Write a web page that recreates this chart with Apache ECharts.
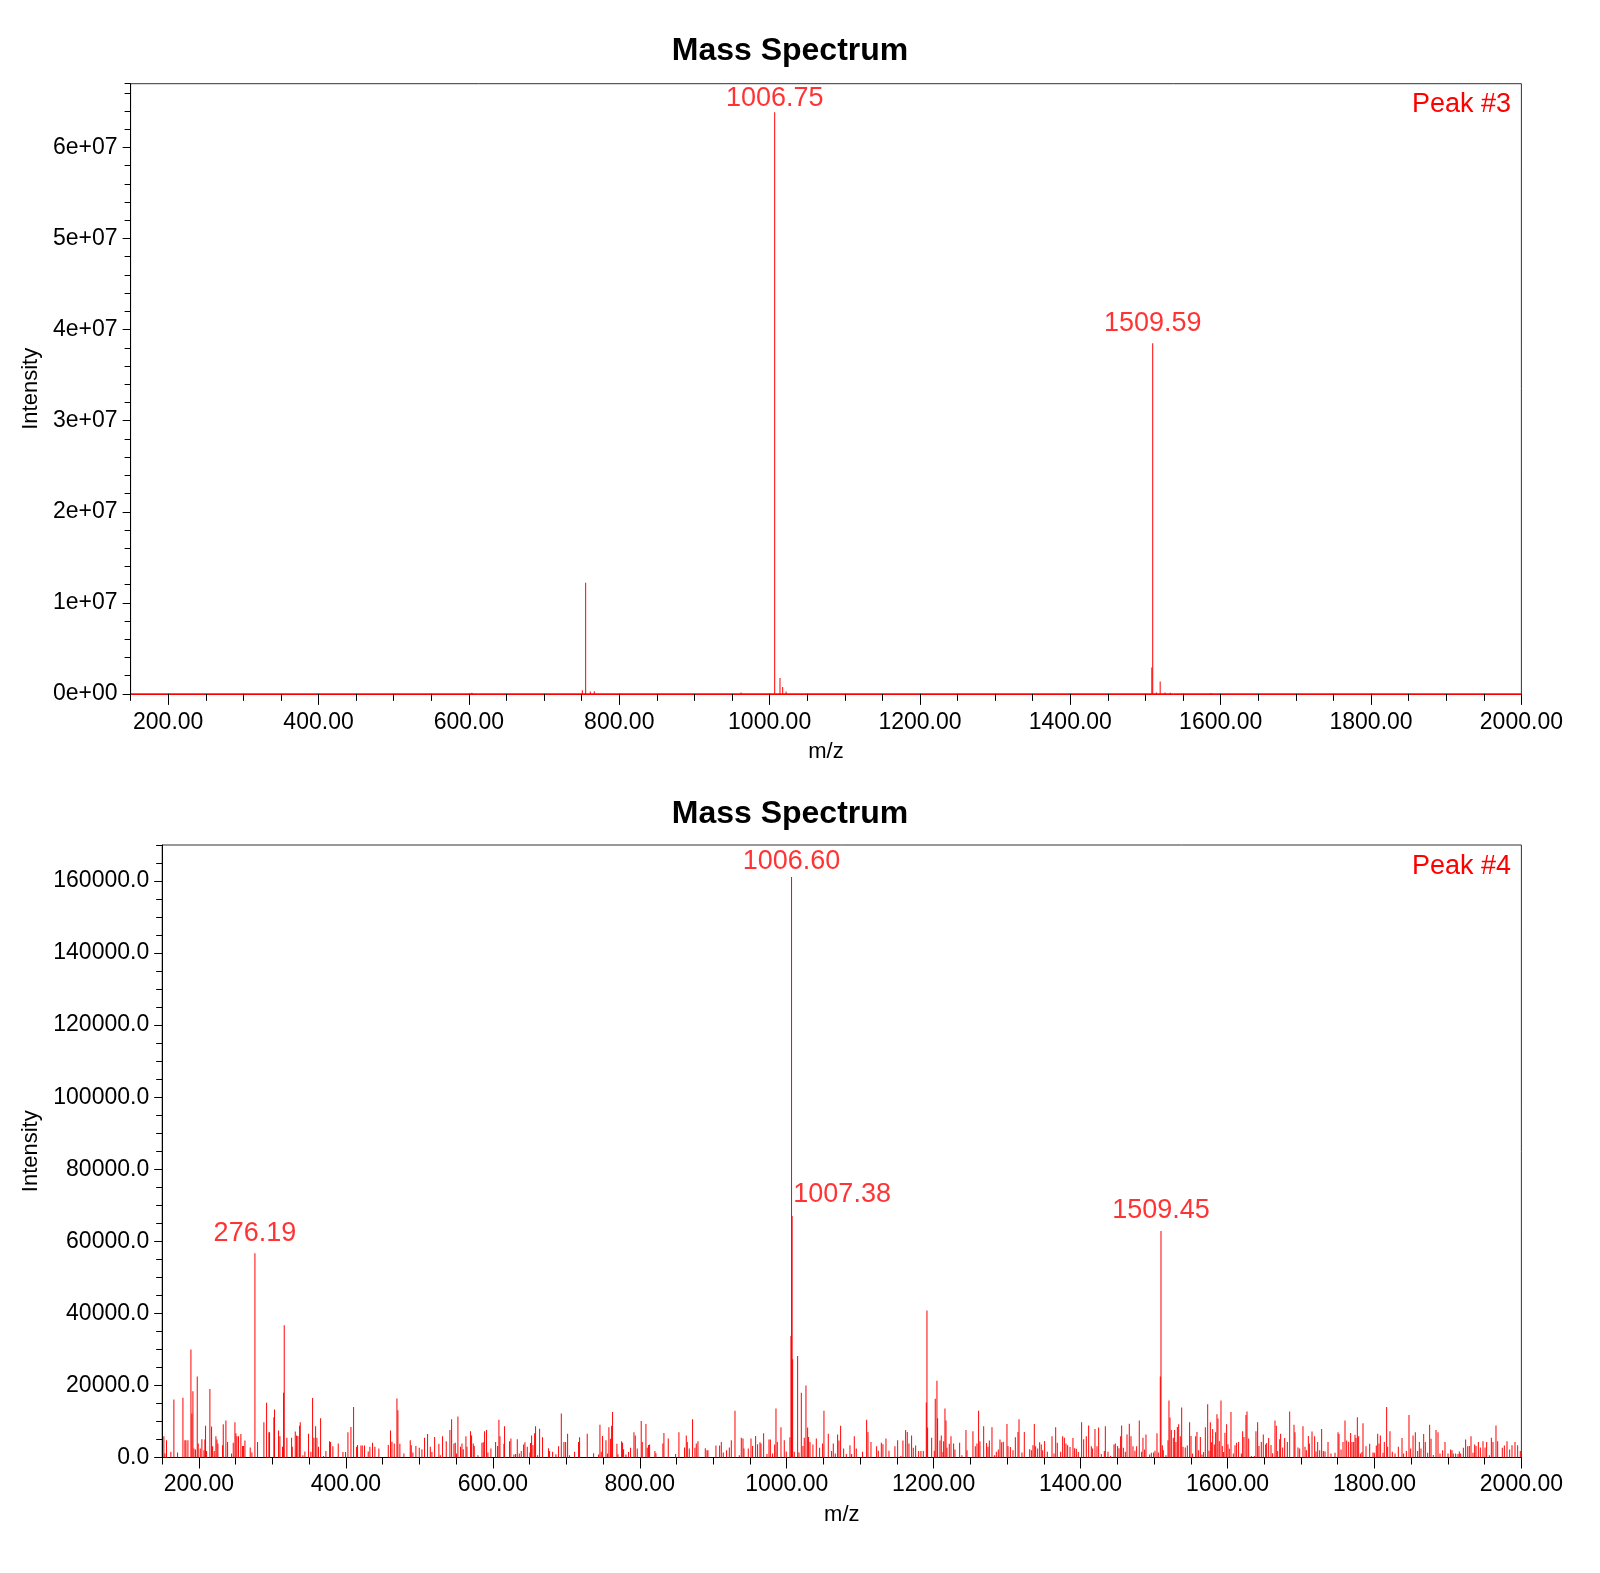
<!DOCTYPE html>
<html>
<head>
<meta charset="utf-8">
<title>Mass Spectrum</title>
<script src="https://cdn.jsdelivr.net/npm/echarts@6/dist/echarts.min.js"></script>
<style>
  html, body { margin: 0; padding: 0; background: #fff; }
  #chart { width: 1600px; height: 1573px; }
</style>
</head>
<body>
<div id="chart"></div>
<script>
// Peak #3 spectrum: [m/z, intensity]
const spec3 = [
  [604.0, 120000], [750.9, 400000], [755.3, 12200000], [761.5, 250000], [766.8, 300000],
  [962.0, 150000], [1006.75, 63860000], [1013.8, 1750000], [1017.4, 750000], [1021.9, 250000],
  [1508.4, 2900000], [1509.59, 38500000], [1514.4, 150000], [1519.5, 1350000],
  [1526.0, 150000], [1533.0, 120000], [1587.0, 100000]
];

// Peak #4 spectrum, split by m/z range
const spec4A = [
  [152.3,5900],[153.7,1100],[155.9,4800],[161.8,1600],[165.9,16100],[170.9,1400],[178.2,16600],[180.9,4800],
  [182.3,4800],[185.0,4800],[189.1,30000],[190.4,12200],[191.8,18400],[193.2,2500],[195.4,2200],[197.7,22500],
  [199.0,3900],[201.8,2500],[204.0,5100],[206.8,2000],[208.1,5000],[209.0,8800],[210.4,1800],[214.9,19000],
  [217.2,8600],[218.6,3100],[220.8,1800],[223.1,5900],[224.5,5000],[225.8,3900],[232.2,3400],[233.1,9200],
  [236.7,10300],[239.0,4300],[244.4,1100],[246.7,4100],[249.0,9800],[250.3,6700],[251.7,5900],[253.9,5900],
  [257.1,6500],[259.4,3200],[260.8,3200],[262.6,4700],[269.8,2800],[272.1,1400],[276.19,56700],[279.8,4300],
  [288.4,9800],[292.1,15200],[295.2,7000],[296.1,7000],[302.0,11200],[302.9,13300],[308.4,7500],[310.2,5900],
  [313.8,3000],[315.2,18000],[316.1,36700],[319.7,5500],[326.1,5500],[327.0,3000],[331.1,7200],[332.9,6100],
  [334.7,6000],[337.0,8800],[337.9,9800],[341.5,650],[344.2,1700],[349.2,6600],[352.4,1600],[354.7,16500],
  [356.5,5500],[358.8,8700],[360.6,5500],[362.8,3000],[365.6,10900],[369.6,400],[372.8,1800],[377.8,4500],
  [379.2,4300],[382.3,3100],[389.6,3900],[396.0,1500],[399.6,1500],[402.8,7000],[406.9,8500],[410.5,14000],
  [414.6,3000],[415.9,3500],[420.5,3300],[422.3,3300],[425.4,3300],[430.4,1700],[432.7,3000],[436.3,4100],
  [439.5,3000],[444.9,2500],[457.7,3500],[460.8,7500],[462.7,4400],[465.8,3900],[469.5,16400],[470.8,13100],
  [473.5,3800],[479.0,1100],[487.6,4800],[489.0,3400],[491.2,1400],[495.3,3200],[499.9,2700],[503.5,2300],
  [507.1,5500],[511.2,6500]
];
const spec4B = [
  [514.9,3000],[517.1,1500],[520.8,5700],[526.6,3800],[528.5,650],[531.6,5900],[536.6,4500],[541.6,7600],
  [543.9,10600],[547.1,3900],[548.9,4100],[550.7,1100],[552.5,11400],[556.1,3000],[558.0,3900],[559.8,2300],
  [563.4,5900],[564.8,3000],[569.7,7300],[571.1,6100],[573.4,3900],[574.7,3200],[579.7,650],[585.2,4100],
  [587.0,4200],[588.8,7300],[591.5,7600],[593.3,1400],[597.4,2500],[603.8,4300],[606.5,3200],[608.3,10500],
  [609.7,5900],[615.1,3800],[616.0,8700],[622.8,4500],[624.6,5300],[628.7,800],[631.0,1000],[633.3,5100],
  [636.0,1100],[638.7,1800],[641.9,3600],[643.7,4200],[646.9,3000],[650.5,1400],[651.4,4000],[652.8,6100],
  [654.6,3500],[656.9,6700],[658.2,8700],[661.0,650],[663.7,8000],[667.7,5600],[675.9,2600],[677.3,1800],
  [681.4,1600],[685.9,900],[689.5,3100],[693.2,12200],[696.8,4300],[699.1,4300],[701.8,6600],[704.5,650],
  [711.3,1600],[716.7,4300],[718.1,5600],[728.5,6600],[737.2,1200],[744.0,800],[745.8,9100],[747.6,1600],
  [749.4,6000],[754.0,4800],[756.2,1100],[758.0,8400],[760.3,5200],[761.7,8800],[763.0,12600],[768.9,3800],
  [770.3,900],[775.3,4500],[776.6,4100],[778.0,2300],[781.2,800],[784.8,1500],[787.5,2700],[792.1,7000],
  [793.9,6100],[796.6,2500],[802.0,10100],[803.4,4300],[808.4,9300],[810.2,2700],[812.0,3500],[813.4,3600],
  [820.6,1800],[822.0,1200],[831.5,3900],[832.9,6800],[838.8,5300],[848.8,1000],[853.3,7000],[861.0,2800],
  [863.3,6100],[864.7,4300],[867.4,2500],[871.9,10600],[875.1,2700],[876.9,3900],[879.2,4500]
];
const spec4C = [
  [889.2,2600],[891.5,2000],[892.8,2000],[903.7,3300],[908.7,3300],[911.0,4300],[913.7,1400],[918.2,2000],
  [921.9,2800],[924.6,4800],[929.6,13000],[935.5,650],[938.2,5500],[940.5,5300],[941.8,2500],[947.7,2500],
  [951.4,5300],[953.6,3200],[957.7,6000],[960.4,3700],[963.6,4200],[965.0,3900],[968.6,6700],[973.1,1000],
  [975.9,5000],[977.7,5000],[980.8,1100],[983.6,3600],[985.4,13600],[987.2,4300],[992.2,8400],[996.7,4800],
  [999.4,1700],[1004.4,5600],[1005.8,33700],[1006.60,161100],[1007.38,67000],[1008.1,27300],[1010.3,1600],
  [1014.9,28200],[1016.7,1400],[1019.9,18000],[1022.1,3200],[1023.9,5500],[1026.2,20000],[1028.5,8300],
  [1029.8,5700],[1031.7,4300],[1035.7,3600],[1040.3,5300],[1044.8,2700],[1048.9,3900],[1050.7,13000],
  [1056.6,6600],[1061.1,1800],[1063.4,3900],[1066.1,1100],[1069.3,6400],[1071.1,4700],[1073.4,8800],
  [1077.5,2500],[1081.1,1000],[1086.1,3400],[1088.4,1000],[1092.0,5900],[1094.7,2500],[1103.3,1600],
  [1108.8,10500],[1110.6,7100],[1114.7,4300],[1122.4,3100],[1124.7,1900],[1128.8,4100],[1131.0,3700],
  [1135.1,5300],[1139.2,1900],[1147.3,3100],[1151.0,4800],[1155.5,400],[1158.2,4700],[1161.9,7600],
  [1164.1,7100],[1166.4,3900],[1170.0,6100],[1172.3,2700],[1175.5,3300],[1179.6,1800],[1182.7,1800],
  [1185.9,1800],[1190.0,15300],[1190.9,40800],[1191.8,8300],[1197.3,5500],[1200.9,1900],[1202.2,16300],
  [1204.5,21300],[1205.4,10900],[1208.6,4700],[1210.4,6100],[1212.7,1500],[1213.6,4500],[1215.4,13600],
  [1216.8,10300],[1218.1,2700],[1221.3,3800],[1223.6,5900],[1227.2,3900],[1229.0,2200],[1235.4,4100],
  [1238.5,650],[1244.0,7600],[1245.4,2000],[1253.5,7300],[1256.7,3100],[1259.0,3900],[1261.2,13000],[1263.0,4500]
];
const spec4D = [
  [1268.1,8700],[1272.1,4000],[1274.0,3000],[1275.8,4700],[1279.4,8400],[1283.0,650],[1285.3,1600],[1288.0,2200],
  [1290.3,5000],[1292.6,4200],[1294.8,4400],[1299.8,9300],[1301.2,3200],[1304.4,2900],[1308.0,2000],[1311.2,5600],
  [1314.8,7100],[1316.2,10600],[1320.2,1400],[1323.4,7100],[1330.7,2300],[1333.0,2000],[1335.2,3400],[1337.0,9300],
  [1338.8,3100],[1341.6,2500],[1344.3,4200],[1346.5,3600],[1348.4,2000],[1351.1,4600],[1354.7,1600],[1361.1,5900],
  [1363.8,1100],[1366.1,8400],[1368.3,4100],[1372.9,1600],[1375.6,5900],[1377.9,5500],[1380.1,3900],[1382.4,3400],
  [1385.6,2900],[1389.6,5400],[1391.9,2600],[1394.2,2400],[1396.9,1500],[1401.4,9800],[1404.2,5100],[1407.8,5900],
  [1411.0,8900],[1414.6,3100],[1416.4,2500],[1419.6,7900],[1422.3,3100],[1424.6,8300],[1428.2,1000],[1432.3,1800],
  [1433.7,8700],[1437.3,1600],[1440.9,400],[1445.5,3600],[1447.3,3900],[1450.4,3200],[1452.3,2600],[1454.5,5900],
  [1455.9,8900],[1458.2,2700],[1460.9,1600],[1463.2,6400],[1466.3,9400],[1468.6,5900],[1471.3,3100],[1474.0,1900],
  [1476.3,3100],[1479.9,10300],[1483.1,1600],[1484.9,5500],[1487.2,2200],[1489.0,6400],[1494.0,800],[1496.3,1300],
  [1499.4,1400],[1501.3,1900],[1504.0,6700],[1505.8,1400],[1508.5,22500],[1509.45,62900],[1511.3,3400],[1512.6,2000],
  [1516.2,650],[1519.0,4800],[1520.3,15800],[1521.7,11100],[1523.5,7600],[1526.2,5500],[1528.0,7600],[1529.8,4300],
  [1531.7,8500],[1533.5,9200],[1535.7,5900],[1537.6,13900],[1539.4,3000],[1542.5,2800],[1545.3,3300],[1548.4,9800],
  [1550.3,6000],[1552.5,1100],[1556.6,5900],[1558.4,7100],[1560.7,2000],[1563.0,5700],[1565.2,800],[1567.5,1500],
  [1569.8,8400],[1573.0,14800],[1574.8,1900],[1576.6,9800],[1578.0,4200],[1579.8,7900],[1582.0,3600],[1583.8,7000],
  [1585.6,12000],[1587.0,10800],[1588.8,4500],[1591.1,15800],[1592.9,3200],[1594.7,1500],[1596.5,6900],[1598.8,9200],
  [1600.6,3700],[1602.4,2400],[1604.7,12600],[1607.9,1100],[1610.2,3400],[1612.4,4100],[1615.1,4300],[1618.8,1100],
  [1620.6,7300],[1622.4,5700],[1625.1,11800],[1626.5,12800],[1628.8,5300],[1632.4,450],[1636.5,450],[1638.7,7300]
];
const spec4E = [
  [1641.0,9800],[1642.8,3200],[1646.0,4300],[1648.7,6400],[1651.9,3600],[1653.3,4000],[1656.0,5400],[1659.2,3500],
  [1661.4,1200],[1664.6,10300],[1666.4,8800],[1668.3,1800],[1671.0,5100],[1672.3,6600],[1675.1,2800],[1677.8,5400],
  [1681.4,4300],[1684.6,12800],[1690.5,9100],[1691.8,7000],[1695.9,2800],[1698.2,2500],[1702.7,8700],[1705.5,3000],
  [1707.3,2000],[1710.0,6000],[1711.4,3900],[1715.0,7200],[1718.6,5900],[1720.4,1700],[1722.7,4300],[1725.4,2000],
  [1728.1,7900],[1730.4,1800],[1732.7,1700],[1736.8,4300],[1740.8,1100],[1746.3,1300],[1750.4,7000],[1751.7,6500],
  [1754.5,2200],[1757.2,4300],[1759.9,10300],[1762.2,4700],[1764.9,4400],[1767.6,6800],[1769.4,4300],[1771.7,4300],
  [1773.5,6300],[1774.9,5400],[1776.7,11200],[1778.5,5900],[1780.8,1100],[1783.0,1500],[1784.4,9500],[1788.5,3100],
  [1793.5,3800],[1798.0,1400],[1799.8,1300],[1802.5,3300],[1804.4,6600],[1806.2,3900],[1808.0,6100],[1811.6,1300],
  [1813.4,4300],[1816.6,14000],[1818.0,3000],[1821.1,7300],[1824.3,1600],[1828.0,1100],[1832.5,3000],[1837.5,5400],
  [1839.7,1100],[1843.4,1800],[1847.0,11800],[1849.3,2500],[1852.5,6100],[1855.6,7000],[1858.8,1800],[1861.1,4300],
  [1863.3,2500],[1867.0,6500],[1869.2,4300],[1872.4,1300],[1875.1,9100],[1877.0,5200],[1880.1,700],[1883.8,7600],
  [1886.5,7000],[1889.2,1100],[1892.8,2000],[1896.0,4300],[1900.1,1100],[1903.7,2200],[1905.5,2000],[1907.3,1100],
  [1910.5,1100],[1913.7,1000],[1915.5,1700],[1917.3,1100],[1921.0,2700],[1924.1,5000],[1926.9,3100],[1929.1,3200],
  [1931.4,5900],[1934.1,1300],[1936.4,3600],[1938.2,3200],[1941.4,4300],[1944.1,2800],[1947.7,4500],[1950.5,2800],
  [1952.7,4300],[1956.4,650],[1959.1,5500],[1961.3,4300],[1965.4,8900],[1967.7,4500],[1974.0,2700],[1976.8,3300],
  [1980.4,4500],[1984.0,2200],[1987.2,3400],[1991.3,4300],[1994.9,3400],[1998.5,1800]
];

// annotated peaks [m/z, intensity]
const peakLabels3 = [[1006.75, 63860000], [1509.59, 38500000]];
const peakLabels4 = [[276.19, 56700], [1006.60, 161100], [1007.38, 67000], [1509.45, 62900]];

const xMajorTicks = [200, 400, 600, 800, 1000, 1200, 1400, 1600, 1800, 2000];
const yMajorTicks3 = [0, 1e7, 2e7, 3e7, 4e7, 5e7, 6e7];
const yMajorTicks4 = [0, 20000, 40000, 60000, 80000, 100000, 120000, 140000, 160000];

// label nudges where the peak sits close to the frame or to another peak
const labelOffsets = { '1006.75': [0, 6], '1006.60': [0, 4], '1007.38': [50, -2] };

const FONT = '"Liberation Sans", Arial, sans-serif';
const RED = '#ff0000';

const chart = echarts.init(document.getElementById('chart'), null, { renderer: 'canvas' });

function expLabel(v) {
  const [m, e] = v.toExponential(0).split('e');
  return m + 'e' + e[0] + e.slice(1).padStart(2, '0');
}

function xAxes(gridIndex, lineColor, labelMargin, nameGap) {
  return [
    {
      type: 'value', gridIndex, min: 150, max: 2000, position: 'bottom',
      axisLine: { show: true, onZero: false, lineStyle: { color: lineColor, width: 1 } },
      axisTick: { show: true, customValues: xMajorTicks, length: 11, lineStyle: { color: '#000' } },
      axisLabel: {
        customValues: xMajorTicks, formatter: (v) => v.toFixed(2),
        fontSize: 23, color: '#000', fontFamily: FONT, margin: labelMargin
      },
      splitLine: { show: false },
      name: 'm/z', nameLocation: 'middle', nameGap,
      nameTextStyle: { fontSize: 22, color: '#000', fontFamily: FONT }
    },
    {
      // minor ticks every 50
      type: 'value', gridIndex, min: 150, max: 2000, interval: 50, position: 'bottom',
      axisLine: { show: false },
      axisTick: { show: true, length: 7, lineStyle: { color: '#000' } },
      axisLabel: { show: false },
      splitLine: { show: false }
    }
  ];
}

function yAxes(gridIndex, max, majors, minorStep, formatter, nameGap) {
  return [
    {
      type: 'value', gridIndex, min: 0, max, position: 'left',
      axisLine: { show: true, onZero: false, lineStyle: { color: '#000', width: 1 } },
      axisTick: { show: true, customValues: majors, length: 8, lineStyle: { color: '#000' } },
      axisLabel: { customValues: majors, formatter, fontSize: 23, color: '#000', fontFamily: FONT, margin: 13 },
      splitLine: { show: false },
      name: 'Intensity', nameLocation: 'middle', nameGap,
      nameTextStyle: { fontSize: 22, color: '#000', fontFamily: FONT }
    },
    {
      type: 'value', gridIndex, min: 0, max, interval: minorStep, position: 'left',
      axisLine: { show: false },
      axisTick: { show: true, length: 6, lineStyle: { color: '#000' } },
      axisLabel: { show: false },
      splitLine: { show: false }
    }
  ];
}

function sticks(data, xi, yi) {
  return {
    type: 'bar', xAxisIndex: xi, yAxisIndex: yi, data,
    barWidth: 1, itemStyle: { color: RED }, silent: true
  };
}

function peakTags(peaks, xi, yi) {
  return {
    type: 'scatter', xAxisIndex: xi, yAxisIndex: yi, z: 10, silent: true,
    symbolSize: 1, itemStyle: { color: 'rgba(0,0,0,0)' },
    data: peaks.map(([mz, v]) => ({
      value: [mz, v],
      label: { offset: labelOffsets[mz.toFixed(2)] || [0, 0] }
    })),
    label: {
      show: true, position: 'top', distance: 6,
      formatter: (p) => p.value[0].toFixed(2),
      color: RED, fontSize: 27, fontFamily: FONT
    }
  };
}

const spec4 = [].concat(spec4A, spec4B, spec4C, spec4D, spec4E);

const option = {
  animation: false,
  backgroundColor: '#fff',
  grid: [
    { left: 130.6, right: 78.6, top: 83.7, bottom: 879.1, show: true, borderColor: '#333', borderWidth: 1, outerBoundsMode: 'none' },
    { left: 162.2, right: 78.6, top: 845, bottom: 115.5, show: true, borderColor: '#333', borderWidth: 1, outerBoundsMode: 'none' }
  ],
  xAxis: [].concat(
    xAxes(0, RED, 17, 47),
    xAxes(1, '#000', 16, 46)
  ),
  yAxis: [].concat(
    yAxes(0, 6.7e7, yMajorTicks3, 2e6, expLabel, 87),
    yAxes(1, 170000, yMajorTicks4, 5000, (v) => v.toFixed(1), 118)
  ),
  series: [
    sticks(spec3, 0, 0),
    peakTags(peakLabels3, 0, 0),
    sticks(spec4, 2, 2),
    peakTags(peakLabels4, 2, 2)
  ],
  graphic: [
    { type: 'text', x: 790, y: 51, style: { text: 'Mass Spectrum', font: 'bold 32px ' + FONT, fill: '#000', textAlign: 'center', textVerticalAlign: 'middle' } },
    { type: 'text', x: 790, y: 814, style: { text: 'Mass Spectrum', font: 'bold 32px ' + FONT, fill: '#000', textAlign: 'center', textVerticalAlign: 'middle' } },
    { type: 'text', x: 1511, y: 105, style: { text: 'Peak #3', font: '27px ' + FONT, fill: RED, textAlign: 'right', textVerticalAlign: 'middle' } },
    { type: 'text', x: 1511, y: 867, style: { text: 'Peak #4', font: '27px ' + FONT, fill: RED, textAlign: 'right', textVerticalAlign: 'middle' } }
  ]
};

chart.setOption(option);
</script>
</body>
</html>
